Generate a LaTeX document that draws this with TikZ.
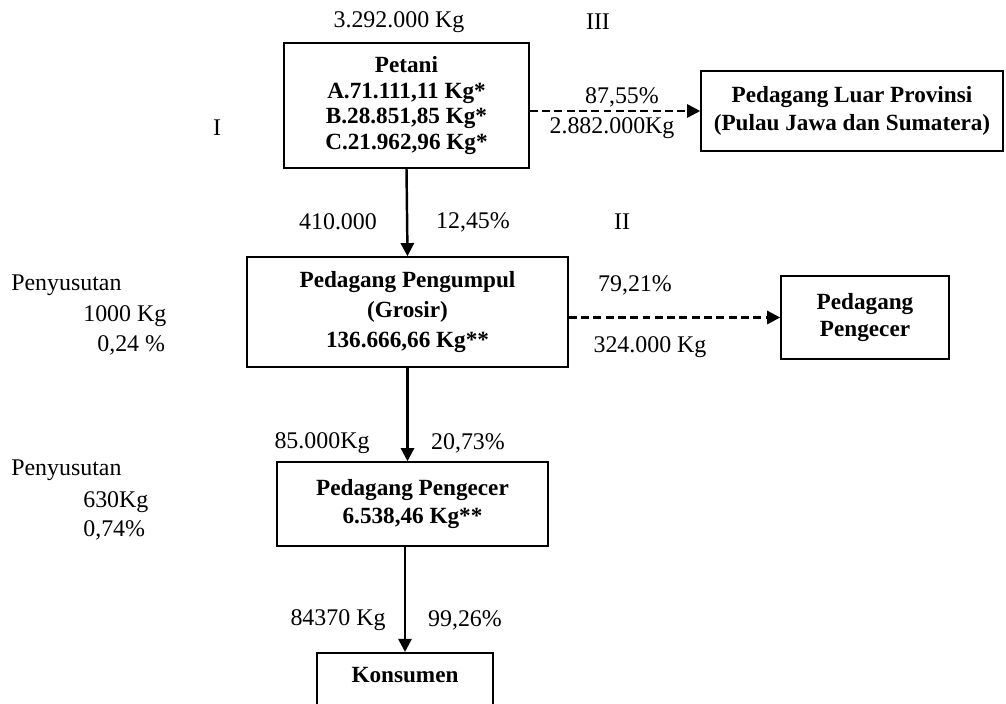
\documentclass[tikz,border=0pt]{standalone}
\usepackage{fontspec}
\setmainfont{Liberation Serif}
\usetikzlibrary{arrows.meta}
\tikzset{
	box/.style={draw, line width=0.9pt, align=center, inner sep=0pt, font=\bfseries\fontsize{13.2}{16.4}\selectfont},
	flow/.style={line width=1.4pt, -{Triangle[length=7.5pt,width=7.5pt]}},
	dashflow/.style={flow, dash pattern=on 4.5pt off 2.5pt},
	lbl/.style={inner sep=0pt, font=\fontsize{13.6}{16}\selectfont}
}
\begin{document}
\begin{tikzpicture}[x=0.02cm,y=-0.02cm]
		\useasboundingbox (0,0) rectangle (1006,703);
		\clip (0,0) rectangle (1006,703);
		% actors
			\node[box, minimum width=4.9cm, minimum height=2.5cm, font=\bfseries\fontsize{13.2}{14.6}\selectfont] (petani) at (406.5,105.5) {Petani\\A.71.111,11 Kg*\\B.28.851,85 Kg*\\C.21.962,96 Kg*};
			\node[box, minimum width=6.04cm, minimum height=1.6cm] (luar) at (852,111) {Pedagang Luar Provinsi\\(Pulau Jawa dan Sumatera)};
			\node[box, minimum width=6.42cm, minimum height=2.2cm, font=\bfseries\fontsize{13.2}{17.2}\selectfont] (grosir) at (407.5,312) {Pedagang Pengumpul\\(Grosir)\\136.666,66 Kg**};
			\node[box, minimum width=3.36cm, minimum height=1.66cm, font=\bfseries\fontsize{13.2}{15.3}\selectfont] (ecerluar) at (865,317.5) {Pedagang\\Pengecer};
			\node[box, minimum width=5.42cm, minimum height=1.68cm] (ecer) at (412.5,504) {Pedagang Pengecer\\6.538,46 Kg**};
			\node[box, minimum width=3.52cm, anchor=north, text height=17pt, text depth=1.3cm] (konsumen) at (405,652) {Konsumen};
		% flows
			\draw[dashflow] (petani.east |- luar.west) -- (luar.west);
			\draw[flow] (petani.south) -- (grosir.north);
			\draw[dashflow] (grosir.east |- ecerluar.west) -- (ecerluar.west);
			\draw[flow] (grosir.south) -- (grosir.south |- ecer.north);
			\draw[flow] (konsumen.north |- ecer.south) -- (konsumen.north);
		% quantities and shares
			\foreach \x/\y/\t [count=\i] in {399/22/{3.292.000 Kg}, 598/22/III, 217/128/I,
				622/97/{87,55\%}, 612/128/{2.882.000Kg}, 338/222/410.000, 473/222/{12,45\%}, 622/222/II,
				635/285/{79,21\%}, 650/347/{324.000 Kg}, 322/443/85.000Kg, 468/443/{20,73\%},
				338/620/{84370 Kg}, 465/620/{99,26\%}}{
				\node[lbl] (val\i) at (\x,\y) {\t};
				}
		% losses
			\foreach \x/\y/\t [count=\i] in {11/285/Penyusutan, 83/316/{1000 Kg}, 97/345/{0,24 \%},
				11/470/Penyusutan, 83/502/630Kg, 83/530/{0,74\%}}{
				\node[lbl, anchor=west] (loss\i) at (\x,\y) {\t};
				}
	\end{tikzpicture}
\end{document}
